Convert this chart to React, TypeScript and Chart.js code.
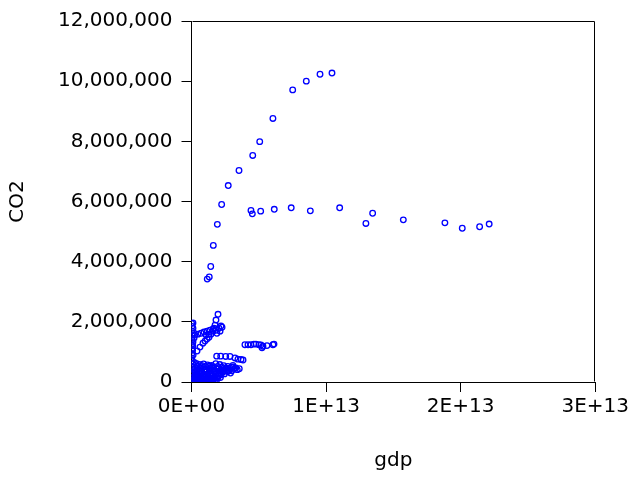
import { useEffect, useRef } from 'react';
import { Chart, registerables } from 'chart.js';

Chart.register(...registerables);

// GDP in trillions of dollars, CO2 in millions of kt
const TRILLION = 1e12;
const MILLION = 1e6;

const chinaGdp = [1.17, 1.32, 1.43, 1.62, 1.92, 2.24, 2.73, 3.53, 4.55, 5.07, 6.05, 7.52, 8.53, 9.55, 10.44];
const chinaCo2 = [3.42, 3.49, 3.84, 4.54, 5.24, 5.9, 6.53, 7.03, 7.53, 7.99, 8.76, 9.71, 10.0, 10.23, 10.27];

const usaGdp = [4.42, 4.52, 5.14, 6.15, 7.41, 8.83, 11.01, 12.96, 13.46, 15.74, 18.83, 20.12, 21.41, 22.12];
const usaCo2 = [5.7, 5.59, 5.68, 5.74, 5.79, 5.69, 5.79, 5.27, 5.61, 5.39, 5.29, 5.11, 5.16, 5.25];

const russiaGdp = [0.11, 0.11, 0.19, 0.19, 0.11, 0.26, 0.48, 0.71, 0.93, 1.15, 1.37, 1.6, 1.82, 2.04, 2.27, 2.12, 1.89, 1.3, 1.08, 2.19];
const russiaCo2 = [1.96, 1.79, 1.62, 1.46, 1.33, 1.56, 1.59, 1.62, 1.66, 1.69, 1.72, 1.76, 1.72, 1.79, 1.82, 1.69, 1.62, 1.59, 1.56, 1.86];

const indiaGdp = [0.41, 0.63, 0.85, 1.0, 1.15, 1.3, 1.45, 1.6, 1.67, 1.75, 1.82, 1.97];
const indiaCo2 = [1.03, 1.16, 1.29, 1.36, 1.43, 1.49, 1.59, 1.69, 1.79, 1.89, 2.06, 2.25];

const japanGdp = [3.97, 4.2, 4.42, 4.64, 4.79, 5.01, 5.16, 5.24, 5.31, 5.61, 6.05, 6.13];
const japanCo2 = [1.24, 1.24, 1.24, 1.26, 1.26, 1.24, 1.23, 1.14, 1.19, 1.21, 1.24, 1.26];

const germanyGdp = [1.87, 2.17, 2.54, 2.86, 3.23, 3.45, 3.68, 3.83, 3.08];
const germanyCo2 = [0.86, 0.86, 0.85, 0.85, 0.8, 0.76, 0.75, 0.73, 0.55];

const othersGdp = [
  0.35, 0.6, 0.9, 1.2, 1.5, 1.8, 2.1, 2.4, 2.7, 3.0, 0.2,
  0.1, 0.4, 0.7, 1.0, 1.3, 1.6, 1.9, 2.2, 2.5, 2.8, 3.2, 3.4,
  0.05, 0.3, 0.55, 0.8, 1.1, 1.4, 1.7, 2.0, 2.3, 2.6, 2.9,
  0.05, 0.25, 0.5, 0.75, 1.0, 1.25, 1.5, 1.75, 2.0, 2.2,
  0.03, 0.2, 0.4, 0.6, 0.85, 1.1, 1.35, 1.6, 1.85,
  0.02, 0.15, 0.3, 0.5, 0.7, 0.9, 1.15, 1.4, 1.6,
  0.02, 0.03, 0.05, 0.02, 0.04, 0.03, 0.02, 0.04, 0.01, 0.06,
  0.5, 0.8, 1.05, 1.35, 1.65, 1.95, 2.25, 2.55, 2.85, 3.1, 3.3, 3.55,
  0.15, 0.45, 0.65, 0.95, 1.15, 1.45, 1.75, 2.05, 2.4, 2.7, 3.0,
  0.1, 0.35, 0.6, 0.9, 1.2, 1.5, 1.8, 2.1, 2.45,
  0.1, 0.3, 0.5, 0.7, 0.95, 1.2, 1.45, 1.7, 1.95, 2.15,
  0.08, 0.25, 0.45, 0.65, 0.8, 1.0, 1.25, 1.5, 1.75,
  0.1, 0.12, 0.08, 0.1, 0.07,
];
const othersCo2 = [
  0.62, 0.58, 0.6, 0.57, 0.55, 0.61, 0.58, 0.54, 0.52, 0.49, 0.65,
  0.48, 0.44, 0.47, 0.43, 0.45, 0.41, 0.44, 0.4, 0.42, 0.38, 0.45, 0.41,
  0.35, 0.33, 0.36, 0.31, 0.34, 0.3, 0.33, 0.29, 0.32, 0.36, 0.3,
  0.24, 0.2, 0.23, 0.19, 0.22, 0.18, 0.21, 0.17, 0.2, 0.24,
  0.12, 0.09, 0.11, 0.08, 0.1, 0.07, 0.09, 0.06, 0.05,
  0.02, 0.03, 0.01, 0.02, 0.01, 0.03, 0.02, 0.01, 0.02,
  0.8, 0.95, 1.1, 1.25, 1.4, 1.55, 1.7, 1.85, 1.95, 0.7,
  0.52, 0.54, 0.51, 0.53, 0.5, 0.52, 0.49, 0.47, 0.46, 0.5, 0.47, 0.44,
  0.4, 0.39, 0.38, 0.39, 0.37, 0.38, 0.37, 0.36, 0.38, 0.35, 0.37,
  0.28, 0.27, 0.28, 0.26, 0.27, 0.25, 0.27, 0.26, 0.27,
  0.16, 0.15, 0.16, 0.14, 0.15, 0.13, 0.14, 0.12, 0.13, 0.15,
  0.06, 0.05, 0.06, 0.05, 0.04, 0.05, 0.04, 0.05, 0.03,
  0.6, 0.9, 1.05, 1.2, 0.5,
];

const xTicks = [0, 1e13, 2e13, 3e13];
const yTicks = [0, 2e6, 4e6, 6e6, 8e6, 10e6, 12e6];
const xTitle = 'gdp';
const yTitle = 'CO2';

const groups: [number[], number[]][] = [
  [chinaGdp, chinaCo2],
  [usaGdp, usaCo2],
  [russiaGdp, russiaCo2],
  [indiaGdp, indiaCo2],
  [japanGdp, japanCo2],
  [germanyGdp, germanyCo2],
  [othersGdp, othersCo2],
];

const points = groups.flatMap(([g, c]) => g.map((v, i) => ({ x: v * TRILLION, y: c[i] * MILLION })));

const fmtExp = (v: number) => {
  if (v === 0) return '0E+00';
  const e = Math.floor(Math.log10(Math.abs(v)) + 1e-9);
  const m = Math.round(v / Math.pow(10, e));
  return `${m}E+${String(e).padStart(2, '0')}`;
};

const FONT = { family: '"DejaVu Sans", sans-serif', size: 20 };

const framePlugin = {
  id: 'frame',
  afterDraw(chart: any) {
    const { ctx, chartArea } = chart;
    ctx.save();
    ctx.strokeStyle = '#000';
    ctx.lineWidth = 1;
    ctx.beginPath();
    const l = Math.round(chartArea.left) + 0.5;
    const r = Math.round(chartArea.right) - 0.5;
    const t = Math.round(chartArea.top) + 0.5;
    const b = Math.round(chartArea.bottom) - 0.5;
    ctx.moveTo(l, t);
    ctx.lineTo(r, t);
    ctx.lineTo(r, b);
    ctx.stroke();
    ctx.restore();
  },
};

export default function App() {
  const ref = useRef<HTMLCanvasElement>(null);
  useEffect(() => {
    if (!ref.current) return;
    const chart = new Chart(ref.current, {
      type: 'scatter',
      data: {
        datasets: [
          {
            data: points,
            pointStyle: 'circle',
            pointRadius: 2.8,
            pointBorderWidth: 1.3,
            borderColor: '#0000ff',
            backgroundColor: 'rgba(0,0,0,0)',
            pointBackgroundColor: 'rgba(0,0,0,0)',
            pointBorderColor: '#0000ff',
            showLine: false,
          },
        ],
      },
      options: {
        responsive: false,
        animation: false,
        devicePixelRatio: 1,
        layout: { padding: { top: 20, right: 36.5, left: 0, bottom: 0 } },
        plugins: { legend: { display: false }, tooltip: { enabled: false } },
        scales: {
          x: {
            type: 'linear',
            min: 0,
            max: 3e13,
            afterFit: (s: any) => { s.height = 95; },
            afterBuildTicks: (s: any) => { s.ticks = xTicks.map((v) => ({ value: v })); },
            ticks: {
              callback: (v: any) => fmtExp(Number(v)),
              font: FONT,
              color: '#000',
              padding: 3,
              maxRotation: 0,
            },
            grid: { drawOnChartArea: false, drawTicks: true, tickLength: 10, tickColor: '#000' },
            border: { display: true, color: '#000', width: 1 },
            title: { display: true, text: xTitle, font: FONT, color: '#000', padding: { top: 0, bottom: 4 } },
          },
          y: {
            type: 'linear',
            min: 0,
            max: 12e6,
            afterFit: (s: any) => { s.width = 191.5; },
            afterBuildTicks: (s: any) => { s.ticks = yTicks.map((v) => ({ value: v })); },
            ticks: {
              callback: (v: any) => Number(v).toLocaleString('en-US'),
              font: FONT,
              color: '#000',
              padding: 9,
            },
            grid: { drawOnChartArea: false, drawTicks: true, tickLength: 10, tickColor: '#000' },
            border: { display: true, color: '#000', width: 1 },
            title: { display: true, text: yTitle, font: FONT, color: '#000', padding: { top: 6, bottom: 0 } },
          },
        },
      },
      plugins: [framePlugin],
    });
    return () => chart.destroy();
  }, []);
  return (
    <div style={{ position: 'absolute', left: 0, top: 0, width: 632, height: 477, background: '#fff' }}>
      <canvas ref={ref} width={632} height={477} />
    </div>
  );
}
